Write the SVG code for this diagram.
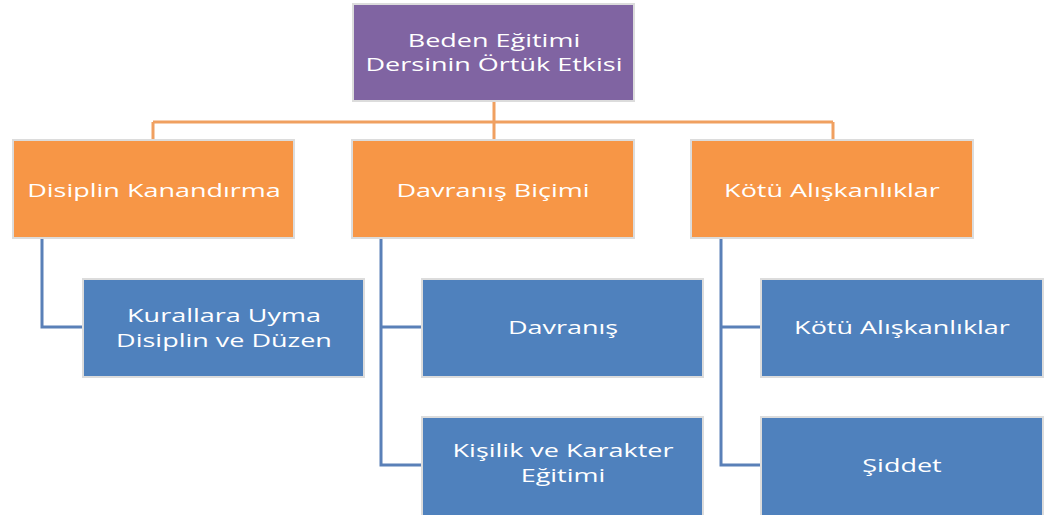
<svg xmlns="http://www.w3.org/2000/svg" width="1049" height="515" viewBox="0 0 1049 515">
<style>
.box{stroke:#dcdcdc;stroke-width:2}
.p{fill:#8064A2}.o{fill:#F79646}.b{fill:#4F81BD}
text{font-family:"Open Sans","Noto Sans",sans-serif;font-size:19px;font-weight:500;fill:#ffffff;text-anchor:middle}
.co{stroke:#F0A060;stroke-width:3;fill:none}
.cb{stroke:#5A80B8;stroke-width:3;fill:none}
</style>
<rect width="1049" height="515" fill="#ffffff"/>
<g id="connectors">
<path class="co" d="M494 101V140M153 122H833M153 122V140M833 122V140"/>
<path class="cb" d="M42 238V327H83"/>
<path class="cb" d="M381 238V465H422M381 327H422"/>
<path class="cb" d="M721 238V465H761M721 327H761"/>
</g>
<g id="root"><rect class="box p" x="353" y="4" width="281" height="97"/><text transform="translate(494 47) scale(1.42 1)">Beden Eğitimi</text><text transform="translate(494 71) scale(1.42 1)">Dersinin Örtük Etkisi</text></g>
<g id="n1"><rect class="box o" x="13" y="140" width="281" height="98"/><text transform="translate(154 197) scale(1.42 1)">Disiplin Kanandırma</text></g>
<g id="n2"><rect class="box o" x="352" y="140" width="282" height="98"/><text transform="translate(493 197) scale(1.42 1)">Davranış Biçimi</text></g>
<g id="n3"><rect class="box o" x="691" y="140" width="282" height="98"/><text transform="translate(832 197) scale(1.42 1)">Kötü Alışkanlıklar</text></g>
<g id="n11"><rect class="box b" x="83" y="279" width="281" height="98"/><text transform="translate(224 322) scale(1.42 1)">Kurallara Uyma</text><text transform="translate(224 347) scale(1.42 1)">Disiplin ve Düzen</text></g>
<g id="n21"><rect class="box b" x="422" y="279" width="281" height="98"/><text transform="translate(563 334) scale(1.42 1)">Davranış</text></g>
<g id="n22"><rect class="box b" x="422" y="417" width="281" height="100"/><text transform="translate(563 457) scale(1.42 1)">Kişilik ve Karakter</text><text transform="translate(563 482) scale(1.42 1)">Eğitimi</text></g>
<g id="n31"><rect class="box b" x="761" y="279" width="282" height="98"/><text transform="translate(902 334) scale(1.42 1)">Kötü Alışkanlıklar</text></g>
<g id="n32"><rect class="box b" x="761" y="417" width="282" height="100"/><text transform="translate(902 472) scale(1.42 1)">Şiddet</text></g>
</svg>
